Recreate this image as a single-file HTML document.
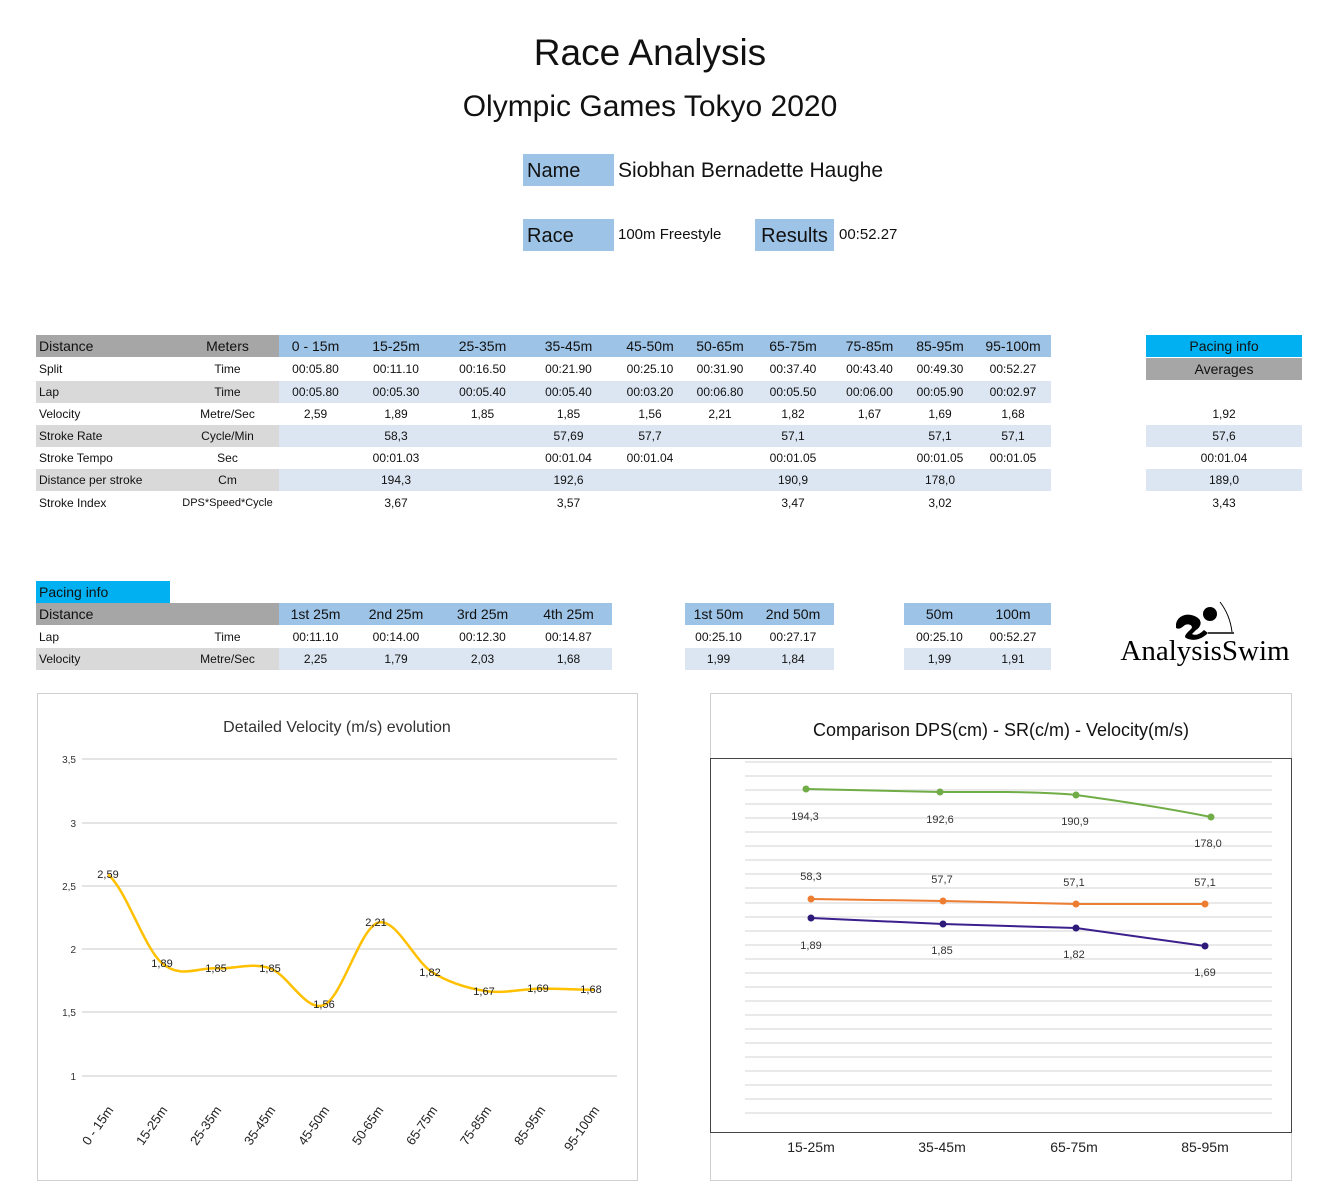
<!DOCTYPE html>
<html><head><meta charset="utf-8"><style>
body{margin:0;width:1320px;height:1200px;background:#fff;position:relative;font-family:"Liberation Sans",sans-serif;color:#111;overflow:hidden}
.a{position:absolute}
.row{position:absolute;left:36px;display:flex;height:22px;font-size:12px}
.row div{text-align:center;flex:none;height:22px;line-height:22px;box-sizing:border-box;white-space:nowrap;overflow:hidden}
.l1{width:140px;text-align:left!important;padding-left:3px}
.l2{width:103px}
.c0{width:73px}.c1{width:88px}.c2{width:85px}.c3{width:87px}.c4{width:76px}.c5{width:64px}.c6{width:82px}.c7{width:71px}.c8{width:70px}.c9{width:76px}
.g{background:#d9d9d9}.b{background:#dce6f2}
.hdr{font-size:14px}
.box{position:absolute;text-align:center;font-size:12px;height:22px;line-height:22px}
</style></head><body>
<div class="a" style="left:0;width:1300px;top:32px;text-align:center;font-size:37px">Race Analysis</div>
<div class="a" style="left:0;width:1300px;top:90px;text-align:center;font-size:30px">Olympic Games Tokyo 2020</div>
<div class="a" style="left:523px;top:154px;width:91px;height:32px;background:#9dc3e6;font-size:20px;line-height:34px;padding-left:4px;box-sizing:border-box">Name</div>
<div class="a" style="left:618px;top:154px;font-size:21px;line-height:34px">Siobhan Bernadette Haughe</div>
<div class="a" style="left:523px;top:219px;width:91px;height:32px;background:#9dc3e6;font-size:20px;line-height:34px;padding-left:4px;box-sizing:border-box">Race</div>
<div class="a" style="left:618px;top:219px;font-size:15px;line-height:32px">100m Freestyle</div>
<div class="a" style="left:755px;top:219px;width:79px;height:32px;background:#9dc3e6;font-size:20px;line-height:34px;text-align:center">Results</div>
<div class="a" style="left:839px;top:219px;font-size:15px;line-height:32px">00:52.27</div>

<div class="row hdr" style="top:335px"><div class="l1" style="background:#a6a6a6">Distance</div><div class="l2" style="background:#a6a6a6">Meters</div>
<div class="c0" style="background:#9dc3e6">0 - 15m</div><div class="c1" style="background:#9dc3e6">15-25m</div><div class="c2" style="background:#9dc3e6">25-35m</div><div class="c3" style="background:#9dc3e6">35-45m</div><div class="c4" style="background:#9dc3e6">45-50m</div><div class="c5" style="background:#9dc3e6">50-65m</div><div class="c6" style="background:#9dc3e6">65-75m</div><div class="c7" style="background:#9dc3e6">75-85m</div><div class="c8" style="background:#9dc3e6">85-95m</div><div class="c9" style="background:#9dc3e6">95-100m</div></div>
<div class="row" style="top:358px"><div class="l1">Split</div><div class="l2">Time</div><div class="c0">00:05.80</div><div class="c1">00:11.10</div><div class="c2">00:16.50</div><div class="c3">00:21.90</div><div class="c4">00:25.10</div><div class="c5">00:31.90</div><div class="c6">00:37.40</div><div class="c7">00:43.40</div><div class="c8">00:49.30</div><div class="c9">00:52.27</div></div>
<div class="row" style="top:381px"><div class="l1 g">Lap</div><div class="l2 g">Time</div><div class="c0 b">00:05.80</div><div class="c1 b">00:05.30</div><div class="c2 b">00:05.40</div><div class="c3 b">00:05.40</div><div class="c4 b">00:03.20</div><div class="c5 b">00:06.80</div><div class="c6 b">00:05.50</div><div class="c7 b">00:06.00</div><div class="c8 b">00:05.90</div><div class="c9 b">00:02.97</div></div>
<div class="row" style="top:403px"><div class="l1">Velocity</div><div class="l2">Metre/Sec</div><div class="c0">2,59</div><div class="c1">1,89</div><div class="c2">1,85</div><div class="c3">1,85</div><div class="c4">1,56</div><div class="c5">2,21</div><div class="c6">1,82</div><div class="c7">1,67</div><div class="c8">1,69</div><div class="c9">1,68</div></div>
<div class="row" style="top:425px"><div class="l1 g">Stroke Rate</div><div class="l2 g">Cycle/Min</div><div class="c0 b"></div><div class="c1 b">58,3</div><div class="c2 b"></div><div class="c3 b">57,69</div><div class="c4 b">57,7</div><div class="c5 b"></div><div class="c6 b">57,1</div><div class="c7 b"></div><div class="c8 b">57,1</div><div class="c9 b">57,1</div></div>
<div class="row" style="top:447px"><div class="l1">Stroke Tempo</div><div class="l2">Sec</div><div class="c0"></div><div class="c1">00:01.03</div><div class="c2"></div><div class="c3">00:01.04</div><div class="c4">00:01.04</div><div class="c5"></div><div class="c6">00:01.05</div><div class="c7"></div><div class="c8">00:01.05</div><div class="c9">00:01.05</div></div>
<div class="row" style="top:469px"><div class="l1 g">Distance per stroke</div><div class="l2 g">Cm</div><div class="c0 b"></div><div class="c1 b">194,3</div><div class="c2 b"></div><div class="c3 b">192,6</div><div class="c4 b"></div><div class="c5 b"></div><div class="c6 b">190,9</div><div class="c7 b"></div><div class="c8 b">178,0</div><div class="c9 b"></div></div>
<div class="row" style="top:492px"><div class="l1">Stroke Index</div><div class="l2" style="font-size:11px">DPS*Speed*Cycle</div><div class="c0"></div><div class="c1">3,67</div><div class="c2"></div><div class="c3">3,57</div><div class="c4"></div><div class="c5"></div><div class="c6">3,47</div><div class="c7"></div><div class="c8">3,02</div><div class="c9"></div></div>

<div class="box" style="left:1146px;width:156px;top:335px;background:#00b0f0;font-size:14px">Pacing info</div>
<div class="box" style="left:1146px;width:156px;top:358px;background:#a6a6a6;font-size:14px">Averages</div>
<div class="box" style="left:1146px;width:156px;top:403px">1,92</div>
<div class="box b" style="left:1146px;width:156px;top:425px">57,6</div>
<div class="box" style="left:1146px;width:156px;top:447px">00:01.04</div>
<div class="box b" style="left:1146px;width:156px;top:469px">189,0</div>
<div class="box" style="left:1146px;width:156px;top:492px">3,43</div>

<div class="a" style="left:36px;top:581px;width:134px;height:22px;background:#00b0f0;font-size:14px;line-height:22px;padding-left:3px;box-sizing:border-box">Pacing info</div>
<div class="row hdr" style="top:603px"><div class="l1" style="background:#a6a6a6">Distance</div><div class="l2" style="background:#a6a6a6"></div>
<div class="c0" style="background:#9dc3e6">1st 25m</div><div class="c1" style="background:#9dc3e6">2nd 25m</div><div class="c2" style="background:#9dc3e6">3rd 25m</div><div class="c3" style="background:#9dc3e6">4th 25m</div></div>
<div class="row" style="top:626px"><div class="l1">Lap</div><div class="l2">Time</div><div class="c0">00:11.10</div><div class="c1">00:14.00</div><div class="c2">00:12.30</div><div class="c3">00:14.87</div></div>
<div class="row" style="top:648px"><div class="l1 g">Velocity</div><div class="l2 g">Metre/Sec</div><div class="c0 b">2,25</div><div class="c1 b">1,79</div><div class="c2 b">2,03</div><div class="c3 b">1,68</div></div>

<div class="box" style="left:685px;width:67px;top:603px;background:#9dc3e6;font-size:14px">1st 50m</div>
<div class="box" style="left:752px;width:82px;top:603px;background:#9dc3e6;font-size:14px">2nd 50m</div>
<div class="box" style="left:685px;width:67px;top:626px">00:25.10</div>
<div class="box" style="left:752px;width:82px;top:626px">00:27.17</div>
<div class="box b" style="left:685px;width:67px;top:648px">1,99</div>
<div class="box b" style="left:752px;width:82px;top:648px">1,84</div>
<div class="box" style="left:904px;width:71px;top:603px;background:#9dc3e6;font-size:14px">50m</div>
<div class="box" style="left:975px;width:76px;top:603px;background:#9dc3e6;font-size:14px">100m</div>
<div class="box" style="left:904px;width:71px;top:626px">00:25.10</div>
<div class="box" style="left:975px;width:76px;top:626px">00:52.27</div>
<div class="box b" style="left:904px;width:71px;top:648px">1,99</div>
<div class="box b" style="left:975px;width:76px;top:648px">1,91</div>

<svg class="a" style="left:0;top:0" width="1320" height="1200">
<g fill="#000"><path d="M1176 624c2-10 14-12 22-6 5 4 2 10-2 12l-4 4c4 2 8 0 12-4l4 3c-6 6-14 9-22 5 -3-2 2-6 5-9 3-3-2-6-6-4-3 2-5 5-9 3z"/><circle cx="1210" cy="614" r="7"/><line x1="1208" y1="633" x2="1234" y2="633" stroke="#000" stroke-width="1.5"/><path d="M1220 602 Q1230 615 1232 632" stroke="#000" fill="none" stroke-width="1"/></g>
<text x="1205" y="660" font-family="Liberation Serif,serif" font-size="29" text-anchor="middle">AnalysisSwim</text>

<rect x="37.5" y="693.5" width="600" height="487" fill="none" stroke="#d0d0d0"/>
<text x="337" y="732" font-family="Liberation Sans,sans-serif" font-size="16" text-anchor="middle" fill="#333">Detailed Velocity (m/s)  evolution</text>
<g stroke="#dcdcdc" stroke-width="1.5"><line x1="82" x2="617" y1="759" y2="759"/><line x1="82" x2="617" y1="823" y2="823"/><line x1="82" x2="617" y1="886" y2="886"/><line x1="82" x2="617" y1="949" y2="949"/><line x1="82" x2="617" y1="1012" y2="1012"/><line x1="82" x2="617" y1="1076" y2="1076"/></g>
<g font-family="Liberation Sans,sans-serif" font-size="10" text-anchor="end" fill="#333"><text x="76" y="763">3,5</text><text x="76" y="827">3</text><text x="76" y="890">2,5</text><text x="76" y="953">2</text><text x="76" y="1016">1,5</text><text x="76" y="1080">1</text></g>
<path d="M108 874.5C126 889.3 144 947.6 162 963.2C180 978.8 198 967.45 216 968.3C234 969.15 252 962.2 270 968.3C288 974.4 306 1012.6 324 1005C342 997.4 360 928.2 378 922.7C396 917.2 414 960.7 432 972.1C450 983.5 468 988.35 486 991.1C504 993.85 522 988.8 540 988.6C558 988.4 576 989.6 594 989.8" fill="none" stroke="#ffc000" stroke-width="2.5"/>
<g font-family="Liberation Sans,sans-serif" font-size="11" text-anchor="middle" fill="#222"><text x="108" y="878">2,59</text><text x="162" y="967">1,89</text><text x="216" y="972">1,85</text><text x="270" y="972">1,85</text><text x="324" y="1008">1,56</text><text x="376" y="926">2,21</text><text x="430" y="976">1,82</text><text x="484" y="995">1,67</text><text x="538" y="992">1,69</text><text x="591" y="993">1,68</text></g>
<g font-family="Liberation Sans,sans-serif" font-size="13" text-anchor="end" fill="#222">
<text transform="translate(114 1110) rotate(-55)">0 - 15m</text><text transform="translate(168 1110) rotate(-55)">15-25m</text><text transform="translate(222 1110) rotate(-55)">25-35m</text><text transform="translate(276 1110) rotate(-55)">35-45m</text><text transform="translate(330 1110) rotate(-55)">45-50m</text><text transform="translate(384 1110) rotate(-55)">50-65m</text><text transform="translate(438 1110) rotate(-55)">65-75m</text><text transform="translate(492 1110) rotate(-55)">75-85m</text><text transform="translate(546 1110) rotate(-55)">85-95m</text><text transform="translate(600 1110) rotate(-55)">95-100m</text></g>

<rect x="710.5" y="693.5" width="581" height="487" fill="none" stroke="#d0d0d0"/>
<rect x="710.5" y="758.5" width="581" height="374" fill="none" stroke="#444"/>
<text x="1001" y="736" font-family="Liberation Sans,sans-serif" font-size="18" text-anchor="middle" fill="#111">Comparison DPS(cm) - SR(c/m) - Velocity(m/s)</text>
<g stroke="#e2e2e2" stroke-width="1.5">
<line x1="745" x2="1272" y1="762" y2="762"/><line x1="745" x2="1272" y1="776" y2="776"/><line x1="745" x2="1272" y1="790" y2="790"/><line x1="745" x2="1272" y1="804" y2="804"/><line x1="745" x2="1272" y1="818" y2="818"/><line x1="745" x2="1272" y1="832" y2="832"/><line x1="745" x2="1272" y1="846" y2="846"/><line x1="745" x2="1272" y1="860" y2="860"/><line x1="745" x2="1272" y1="874" y2="874"/><line x1="745" x2="1272" y1="888" y2="888"/><line x1="745" x2="1272" y1="903" y2="903"/><line x1="745" x2="1272" y1="917" y2="917"/><line x1="745" x2="1272" y1="931" y2="931"/><line x1="745" x2="1272" y1="945" y2="945"/><line x1="745" x2="1272" y1="959" y2="959"/><line x1="745" x2="1272" y1="973" y2="973"/><line x1="745" x2="1272" y1="987" y2="987"/><line x1="745" x2="1272" y1="1001" y2="1001"/><line x1="745" x2="1272" y1="1015" y2="1015"/><line x1="745" x2="1272" y1="1029" y2="1029"/><line x1="745" x2="1272" y1="1043" y2="1043"/><line x1="745" x2="1272" y1="1057" y2="1057"/><line x1="745" x2="1272" y1="1071" y2="1071"/><line x1="745" x2="1272" y1="1085" y2="1085"/><line x1="745" x2="1272" y1="1099" y2="1099"/><line x1="745" x2="1272" y1="1113" y2="1113"/></g>
<path d="M806 789L940 792L1008 792Q1060 793 1076 795Q1150 805 1211 817" fill="none" stroke="#70ad47" stroke-width="2"/>
<g fill="#70ad47"><circle cx="806" cy="789" r="3.5"/><circle cx="940" cy="792" r="3.5"/><circle cx="1076" cy="795" r="3.5"/><circle cx="1211" cy="817" r="3.5"/></g>
<polyline points="811,899 943,901 1076,904 1205,904" fill="none" stroke="#ed7d31" stroke-width="2"/>
<g fill="#ed7d31"><circle cx="811" cy="899" r="3.5"/><circle cx="943" cy="901" r="3.5"/><circle cx="1076" cy="904" r="3.5"/><circle cx="1205" cy="904" r="3.5"/></g>
<polyline points="811,918 943,924 1076,928 1205,946" fill="none" stroke="#3b1f8c" stroke-width="2"/>
<g fill="#2e1a78"><circle cx="811" cy="918" r="3.5"/><circle cx="943" cy="924" r="3.5"/><circle cx="1076" cy="928" r="3.5"/><circle cx="1205" cy="946" r="3.5"/></g>
<g font-family="Liberation Sans,sans-serif" font-size="11" text-anchor="middle" fill="#333">
<text x="805" y="820">194,3</text><text x="940" y="823">192,6</text><text x="1075" y="825">190,9</text><text x="1208" y="847">178,0</text>
<text x="811" y="880">58,3</text><text x="942" y="883">57,7</text><text x="1074" y="886">57,1</text><text x="1205" y="886">57,1</text>
<text x="811" y="949">1,89</text><text x="942" y="954">1,85</text><text x="1074" y="958">1,82</text><text x="1205" y="976">1,69</text></g>
<g font-family="Liberation Sans,sans-serif" font-size="14" text-anchor="middle" fill="#222"><text x="811" y="1152">15-25m</text><text x="942" y="1152">35-45m</text><text x="1074" y="1152">65-75m</text><text x="1205" y="1152">85-95m</text></g>
</svg>
</body></html>
